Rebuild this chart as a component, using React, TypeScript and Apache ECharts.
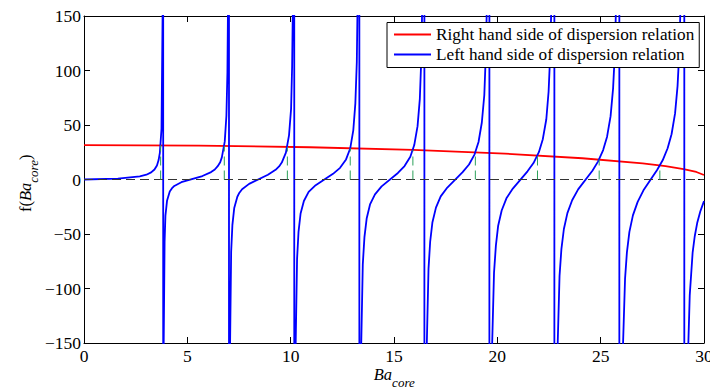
import React, { useEffect, useRef } from "react";
import * as echarts from "echarts";

// x positions of the poles of the left hand side (vertical jumps)
const poles = [3.8317, 7.0156, 10.1735, 13.3237, 16.4706, 19.6159, 22.7601, 25.9037, 29.0468];

// Left hand side of dispersion relation, one branch between consecutive poles: [Ba_core, f]
const lhsBranch0 = [[0, 0], [1.64, 0.8], [2.7, 2.9], [3.02, 4.4], [3.25, 6.5], [3.41, 9.2], [3.53, 12.9], [3.61, 17.8], [3.67, 24.5], [3.75, 46.5], [3.81, 165]];
const lhsBranch1 = [[3.85, -165], [3.9, -56.9], [3.94, -33.2], [4.02, -19.2], [4.15, -11.0], [4.25, -8.2], [4.37, -5.9], [4.71, -2.5], [5.73, 3.2], [6.15, 6.8], [6.33, 9.2], [6.47, 12.2], [6.59, 15.9], [6.67, 20.3], [6.81, 34.7], [6.89, 58.3], [6.94, 98.1], [6.97, 165]];
const lhsBranch2 = [[7.06, -165], [7.12, -66.5], [7.18, -41.9], [7.27, -26.1], [7.42, -15.8], [7.52, -12.1], [7.65, -8.9], [7.99, -4.0], [8.9, 4.3], [9.27, 8.9], [9.44, 12.0], [9.57, 15.5], [9.77, 24.7], [9.92, 40.4], [10.02, 64.8], [10.07, 103.4], [10.11, 165]];
const lhsBranch3 = [[10.23, -165], [10.31, -72.8], [10.38, -48.0], [10.48, -31.2], [10.64, -19.7], [10.87, -11.4], [11.21, -5.2], [12.05, 5.2], [12.39, 10.7], [12.68, 18.4], [12.88, 28.4], [13.03, 45.0], [13.13, 69.9], [13.2, 107.6], [13.24, 165]];
const lhsBranch4 = [[13.4, -165], [13.49, -77.7], [13.57, -52.9], [13.68, -35.5], [13.84, -22.9], [14.08, -13.6], [14.4, -6.3], [15.19, 6.0], [15.51, 12.3], [15.79, 20.8], [15.98, 31.6], [16.14, 48.9], [16.25, 74.0], [16.32, 110.5], [16.37, 165]];
const lhsBranch5 = [[16.57, -165], [16.67, -81.9], [16.75, -57.1], [16.86, -39.2], [17.03, -25.8], [17.26, -15.5], [17.58, -7.4], [18.32, 6.8], [18.63, 13.8], [18.9, 23.1], [19.09, 34.4], [19.25, 52.3], [19.37, 77.5], [19.44, 113.4], [19.5, 165]];
const lhsBranch6 = [[19.73, -165], [19.84, -85.4], [19.93, -60.7], [20.04, -42.4], [20.21, -28.4], [20.44, -17.3], [20.75, -8.3], [21.46, 7.5], [21.75, 15.1], [22.01, 25.1], [22.2, 37.0], [22.37, 55.3], [22.48, 80.5], [22.56, 115.6], [22.62, 165]];
const lhsBranch7 = [[22.9, -165], [23.01, -88.4], [23.1, -63.9], [23.22, -45.4], [23.39, -30.8], [23.62, -19.0], [23.91, -9.1], [24.6, 8.1], [24.87, 16.4], [25.12, 27.0], [25.31, 39.3], [25.48, 58.1], [25.6, 83.3], [25.69, 117.5], [25.75, 165]];
const lhsBranch8 = [[26.06, -165], [26.18, -91.0], [26.27, -66.8], [26.39, -48.0], [26.56, -32.9], [26.79, -20.5], [27.07, -9.9], [27.73, 8.7], [28.0, 17.6], [28.24, 28.7], [28.43, 41.5], [28.6, 60.6], [28.72, 85.6], [28.81, 119.3], [28.87, 165]];
const lhsBranch9 = [[29.22, -165], [29.31, -106.2], [29.45, -67.0], [29.55, -52.3], [29.67, -40.0], [29.82, -29.3], [30.0, -19.8]];

// Right hand side of dispersion relation: [Ba_core, f]
const rhsPoints = [[0, 31.6], [5.56, 31.1], [10.93, 29.6], [15.92, 27.1], [20.37, 23.7], [24.11, 19.5], [27.03, 14.8], [28.14, 12.2], [29.01, 9.6], [29.63, 6.9], [30.0, 4.1]];

// Intersections (solutions), marked with dashed stems from zero
const solutionX = [3.708, 6.788, 9.84, 12.882, 15.914, 18.936, 21.943, 24.928, 27.864];
const solutionY = [31.4, 30.8, 30.0, 28.7, 27.1, 24.9, 22.1, 18.4, 12.9];

const xMin = 0, xMax = 30, xStep = 5;
const yMin = -150, yMax = 150, yStep = 50;
const rhsName = "Right hand side of dispersion relation";
const lhsName = "Left hand side of dispersion relation";

const SERIF = "Liberation Serif";
const BIG = 3000;

export default function App() {
  const ref = useRef<HTMLDivElement>(null);
  useEffect(() => {
    const chart = echarts.init(ref.current!, null, { renderer: "svg" });
    const branches = [lhsBranch0, lhsBranch1, lhsBranch2, lhsBranch3, lhsBranch4, lhsBranch5, lhsBranch6, lhsBranch7, lhsBranch8, lhsBranch9];
    const lhsData: any[] = [];
    branches.forEach((b, i) => {
      lhsData.push(...b);
      if (i < poles.length) lhsData.push([poles[i], BIG], [poles[i], -BIG]);
    });
    const stemData: any[] = [];
    solutionX.forEach((x, i) => {
      stemData.push([x, 0], [x, solutionY[i]], [x, null]);
    });

    const cv = document.createElement("canvas").getContext("2d")!;
    const mw = (t: string, f: string) => { cv.font = f; return cv.measureText(t).width; };
    const fN = `16.5px "${SERIF}"`, fI = `italic 16.5px "${SERIF}"`, fS = `italic 13px "${SERIF}"`;
    const wBa = mw("Ba", fI), wCore = mw("core", fS), wF = mw("f(", fN);
    const xStart = 394.25 - (wBa + wCore) / 2;
    const txt = (text: string, x: number, y: number, font: string) => ({
      type: "text", x, y, silent: true,
      style: { text, font, fill: "#000", align: "left", verticalAlign: "middle", textAlign: "left", textVerticalAlign: "middle" },
    });

    const axisCommon = {
      axisLine: { show: true, onZero: false, lineStyle: { color: "#000", width: 1 } },
      axisTick: { show: true, inside: true, length: 6, lineStyle: { color: "#000", width: 1 } },
      splitLine: { show: false },
    };
    const labelStyle = { color: "#000", fontFamily: SERIF, fontSize: 17.5 };
    const fmtY = (v: number) => (v < 0 ? "\u2212" + Math.abs(v) : String(v));

    chart.setOption({
      animation: false,
      backgroundColor: "#fff",
      grid: { left: 84, right: 6, top: 16, bottom: 46, containLabel: false, outerBoundsMode: "none" },
      xAxis: [
        { type: "value", min: xMin, max: xMax, interval: xStep, position: "bottom", ...axisCommon, axisLabel: { ...labelStyle, margin: 4 } },
        { type: "value", min: xMin, max: xMax, interval: xStep, position: "top", ...axisCommon, axisLabel: { show: false } },
      ],
      yAxis: [
        { type: "value", min: yMin, max: yMax, interval: yStep, position: "left", ...axisCommon, axisLabel: { ...labelStyle, margin: 3, formatter: fmtY } },
        { type: "value", min: yMin, max: yMax, interval: yStep, position: "right", ...axisCommon, axisLabel: { show: false } },
      ],
      legend: {
        data: [rhsName, lhsName],
        orient: "vertical",
        left: 387,
        top: 22.5,
        padding: [2, 5, 3, 7],
        itemGap: 0,
        itemWidth: 37,
        itemHeight: 2,
        icon: "rect",
        borderColor: "#000",
        borderWidth: 1,
        borderRadius: 0,
        backgroundColor: "#fff",
        selectedMode: false,
        textStyle: { color: "#000", fontFamily: SERIF, fontSize: 17.2, lineHeight: 20 },
      },
      series: [
        {
          name: rhsName, type: "line", data: rhsPoints, showSymbol: false, symbol: "none", clip: true, z: 2,
          color: "#ff0000", itemStyle: { color: "#ff0000" }, lineStyle: { color: "#ff0000", width: 1.8 },
        },
        {
          name: lhsName, type: "line", data: lhsData, showSymbol: false, symbol: "none", clip: true, z: 3,
          color: "#0000ff", itemStyle: { color: "#0000ff" }, lineStyle: { color: "#0000ff", width: 1.8 },
        },
        {
          name: "zero", type: "line", data: [[xMin, 0], [xMax, 0]], showSymbol: false, symbol: "none", clip: true, z: 4,
          lineStyle: { color: "#333333", width: 1, type: [9, 5] },
        },
        {
          name: "solutions", type: "line", data: stemData, showSymbol: false, symbol: "none", connectNulls: false, clip: true, z: 4,
          lineStyle: { color: "#2ca05a", width: 1, type: [9, 5] },
        },
      ],
      graphic: [
        {
          type: "group", x: 0, y: 0, silent: true,
          children: [
            txt("Ba", xStart, 374.4, fI),
            txt("core", xStart + wBa, 382.6, fS),
          ],
        },
        {
          type: "group", x: 0, y: 212, rotation: Math.PI / 2, silent: true,
          children: [
            txt("f(", 0, 25.4, fN),
            txt("Ba", wF, 25.4, fI),
            txt("core", wF + wBa, 33.3, fS),
            txt(")", wF + wBa + wCore, 25.4, fN),
          ],
        },
      ],
    });
    return () => chart.dispose();
  }, []);
  return <div ref={ref} style={{ position: "fixed", left: 0, top: 0, width: 710, height: 389, background: "#fff" }} />;
}
